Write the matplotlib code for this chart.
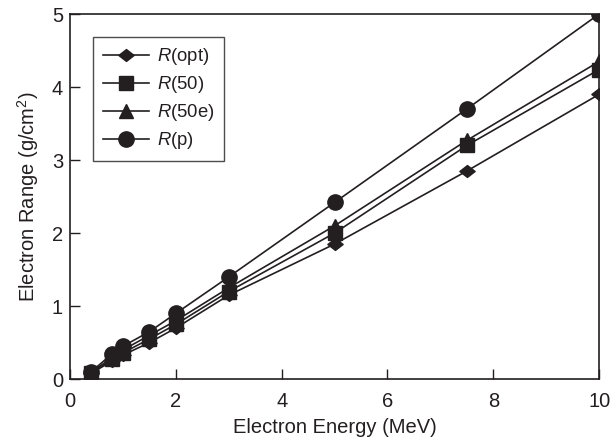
import matplotlib
matplotlib.use("Agg")
import matplotlib.pyplot as plt
from matplotlib.path import Path

energy = [0.4, 0.8, 1.0, 1.5, 2.0, 3.0, 5.0, 7.5, 10.0]
r_opt = [0.08, 0.25, 0.33, 0.50, 0.70, 1.15, 1.85, 2.85, 3.90]
r_50 = [0.09, 0.27, 0.36, 0.55, 0.75, 1.20, 2.00, 3.20, 4.24]
r_50e = [0.09, 0.30, 0.40, 0.60, 0.80, 1.25, 2.10, 3.27, 4.35]
r_p = [0.10, 0.35, 0.45, 0.65, 0.90, 1.40, 2.42, 3.70, 5.00]

# slightly flattened diamond, as in the original
diamond = Path([(-1, 0), (0, 0.78), (1, 0), (0, -0.78), (-1, 0)],
               [Path.MOVETO, Path.LINETO, Path.LINETO, Path.LINETO, Path.CLOSEPOLY])

series = [
    (r_opt, diamond, 11, r"$\it{R}$(opt)"),
    (r_50, "s", 10.5, r"$\it{R}$(50)"),
    (r_50e, "^", 9.5, r"$\it{R}$(50e)"),
    (r_p, "o", 11, r"$\it{R}$(p)"),
]

plt.rcParams["font.family"] = ["Liberation Sans", "DejaVu Sans"]
plt.rcParams["mathtext.fontset"] = "custom"
plt.rcParams["mathtext.it"] = "Liberation Sans:italic"
plt.rcParams["mathtext.rm"] = "Liberation Sans"

fig = plt.figure(figsize=(6.11, 4.45), dpi=100)
ax = fig.add_axes([0.1146, 0.148, 0.866, 0.8205])

col = "#231f20"
for ys, m, ms, lab in series:
    ax.plot(energy, ys, color=col, lw=1.2, marker=m, markersize=ms, label=lab)

fs = 14.5
ax.set_xlim(0, 10)
ax.set_ylim(0, 5)
ax.set_xticks([0, 2, 4, 6, 8, 10])
ax.set_yticks([0, 1, 2, 3, 4, 5])
ax.tick_params(direction="in", labelsize=fs, length=7, width=1, colors=col)
ax.tick_params(axis="x", pad=9)
ax.tick_params(axis="y", pad=5)
ax.set_xlabel("Electron Energy (MeV)", fontsize=fs, color=col, labelpad=5)
ax.set_ylabel("Electron Range (g/cm$^2$)", fontsize=fs, color=col, labelpad=8)
for s in ax.spines.values():
    s.set_linewidth(1.2)
    s.set_color(col)

leg = ax.legend(loc="upper left", bbox_to_anchor=(0.044, 0.937), fontsize=13.3,
                fancybox=False, edgecolor=col, handlelength=2.5,
                labelspacing=0.38, borderpad=0.5, handletextpad=0.45,
                borderaxespad=0)
leg.get_frame().set_linewidth(1.0)
for t in leg.get_texts():
    t.set_color(col)

fig.savefig("out.png", dpi=100)
